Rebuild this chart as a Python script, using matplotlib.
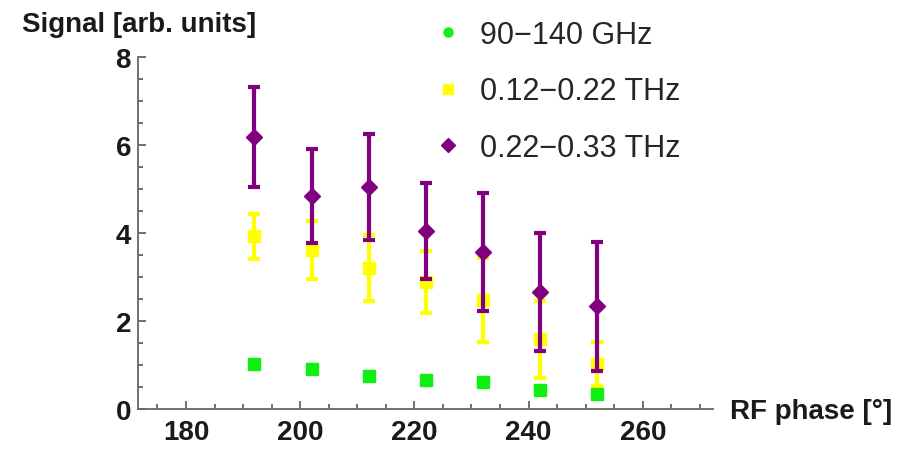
import numpy as np
import matplotlib.pyplot as plt
from matplotlib.lines import Line2D
from matplotlib.ticker import MultipleLocator

# ---------------- data ----------------
phase = [192, 202, 212, 222, 232, 242, 252]

sig_ghz = [1.03, 0.92, 0.75, 0.65, 0.61, 0.43, 0.33]
err_ghz = [0.04, 0.08, 0.05, 0.08, 0.07, 0.04, 0.04]

sig_low = [3.93, 3.61, 3.20, 2.88, 2.48, 1.58, 1.02]
err_low = [0.51, 0.66, 0.75, 0.70, 0.95, 0.88, 0.50]

sig_high = [6.18, 4.84, 5.05, 4.04, 3.57, 2.66, 2.33]
err_high = [1.13, 1.07, 1.20, 1.09, 1.34, 1.34, 1.47]

labels = ["90\u2212140 GHz", "0.12\u22120.22 THz", "0.22\u22120.33 THz"]

green = "#11ee11"
yellow = "#ffff00"
purple = "#800080"
axcol = "#666666"

plt.rcParams['font.family'] = ['Liberation Sans', 'DejaVu Sans']

fig = plt.figure(figsize=(9.09, 4.52), dpi=100)
ax = fig.add_axes([138 / 909, 1 - 410 / 452, 575 / 909, 352 / 452])

# ---------------- series ----------------
ax.errorbar(phase, sig_low, yerr=err_low, fmt='s', color=yellow, ms=8.5,
            elinewidth=3, capsize=4.5, capthick=3, zorder=2, clip_on=False)
ax.errorbar(phase, sig_high, yerr=err_high, fmt='D', color=purple, ms=8,
            elinewidth=3, capsize=4.5, capthick=3, zorder=3, clip_on=False)
ax.errorbar(phase, sig_ghz, yerr=err_ghz, fmt='s', color=green, ms=8,
            elinewidth=3, capsize=4, capthick=3, zorder=4, clip_on=False)

# ---------------- axes styling (Mathematica look) ----------------
ax.set_xlim(171.6, 272.3)
ax.set_ylim(0, 8)
for s in ['top', 'right']:
    ax.spines[s].set_visible(False)
for s in ['left', 'bottom']:
    ax.spines[s].set_color(axcol)
    ax.spines[s].set_linewidth(1.3)

ax.xaxis.set_major_locator(MultipleLocator(20))
ax.xaxis.set_minor_locator(MultipleLocator(5))
ax.yaxis.set_major_locator(MultipleLocator(2))
ax.yaxis.set_minor_locator(MultipleLocator(0.5))
ax.tick_params(which='both', direction='in', color=axcol, width=1.3)
ax.tick_params(which='major', length=6)
ax.tick_params(which='minor', length=3.5)
ax.tick_params(axis='x', pad=7)
ax.tick_params(axis='y', pad=5)
for t in ax.get_xticklabels() + ax.get_yticklabels():
    t.set_fontsize(20)
    t.set_fontweight('bold')
    t.set_color('#1a1a1a')

ax.set_xlabel("RF phase [°]", fontsize=20, fontweight='bold', color='#1a1a1a',
              ha='left', va='center')
ax.xaxis.set_label_coords((730 - 138) / 575, -0.006)
ax.set_ylabel("Signal [arb. units]", fontsize=20, fontweight='bold',
              color='#1a1a1a', rotation=0, ha='left', va='center')
ax.yaxis.set_label_coords((22 - 138) / 575, (410 - 25) / 352)

# ---------------- legend ----------------
handles = [
    Line2D([], [], ls='none', marker='o', color=green, ms=6.5),
    Line2D([], [], ls='none', marker='s', color=yellow, ms=7.5),
    Line2D([], [], ls='none', marker='D', color=purple, ms=7),
]
leg = fig.legend(handles, labels, loc='upper left',
                 bbox_to_anchor=(433 / 909, 1 - 21 / 452), frameon=False,
                 fontsize=22, handlelength=1.0, handletextpad=0.55,
                 labelspacing=0.86, borderpad=0, borderaxespad=0)
for t in leg.get_texts():
    t.set_color('#262626')

fig.savefig("out.png", dpi=100)
